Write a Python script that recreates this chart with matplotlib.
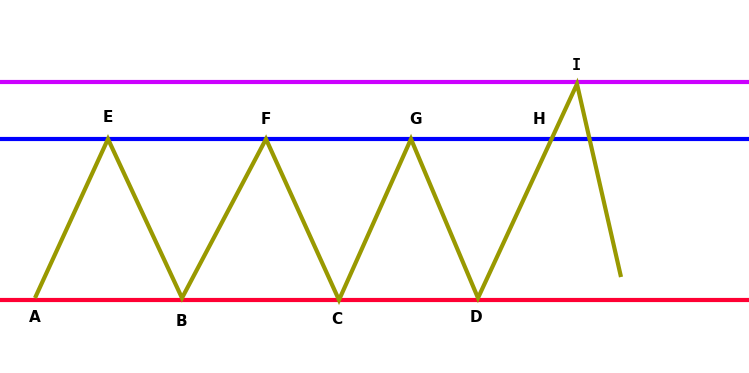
import matplotlib
matplotlib.use("Agg")
import matplotlib.pyplot as plt

W, H = 749, 373

# horizontal levels (pixel rows)
level_rows = [82, 139, 300]
level_colors = ["#cc00ff", "#0000ff", "#ff0033"]

# zigzag points
zig_x = [35, 108, 182, 266, 339, 411, 478, 577, 621]
zig_y = [298, 139, 298, 139, 300, 139, 298, 84, 277]

# point labels
lab_text = ["A", "E", "B", "F", "C", "G", "D", "H", "I"]
lab_x = [35, 108, 181, 266, 337, 416, 476, 539, 576]
lab_y = [318, 117, 321, 119, 319, 119, 318, 119, 66]

fig = plt.figure(figsize=(W / 100, H / 100), dpi=100)
ax = fig.add_axes([0, 0, 1, 1])
ax.set_xlim(0, W)
ax.set_ylim(H, 0)
ax.axis("off")

for yv, c in zip(level_rows, level_colors):
    ax.axhline(yv, color=c, linewidth=3)

ax.plot(zig_x, zig_y, color="#999900", linewidth=3, solid_capstyle="butt",
        solid_joinstyle="miter")

for t, x, y in zip(lab_text, lab_x, lab_y):
    # the reference "I" has serifs, mono face gives that
    fam = "DejaVu Sans Mono" if t == "I" else "DejaVu Sans"
    ax.text(x, y, t, ha="center", va="center", fontsize=11, fontweight="bold",
            color="black", family=fam)

fig.savefig("out.png", dpi=100)
